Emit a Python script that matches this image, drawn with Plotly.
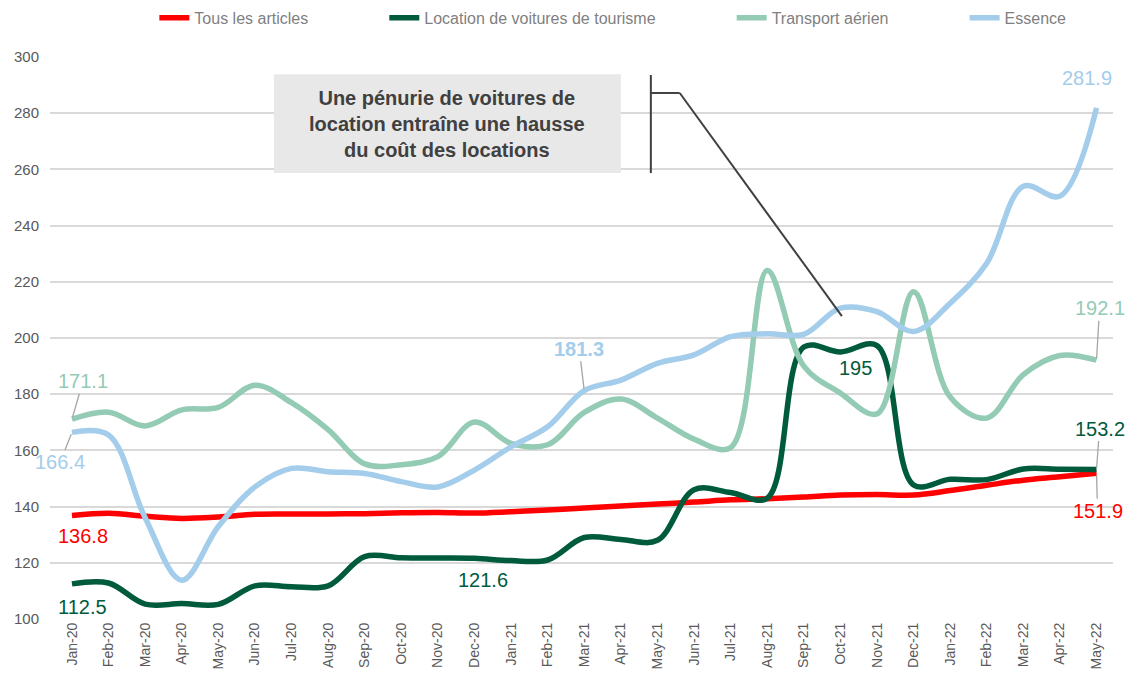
import plotly.graph_objects as go

# months shown on the x axis
months = [
    "Jan-20", "Feb-20", "Mar-20", "Apr-20", "May-20", "Jun-20", "Jul-20", "Aug-20",
    "Sep-20", "Oct-20", "Nov-20", "Dec-20", "Jan-21", "Feb-21", "Mar-21", "Apr-21",
    "May-21", "Jun-21", "Jul-21", "Aug-21", "Sep-21", "Oct-21", "Nov-21", "Dec-21",
    "Jan-22", "Feb-22", "Mar-22", "Apr-22", "May-22",
]

tous_les_articles = [
    136.8, 137.6, 136.6, 135.8, 136.3, 137.3, 137.4, 137.4, 137.5, 137.8, 137.9, 137.7,
    138.2, 138.8, 139.5, 140.2, 140.9, 141.6, 142.4, 142.8, 143.4, 144.1, 144.3, 144.1,
    145.7, 147.6, 149.4, 150.6, 151.9,
]
location_voitures = [
    112.5, 112.8, 105.3, 105.5, 105.2, 111.8, 111.5, 111.8, 122.2, 121.8, 121.7, 121.6,
    120.8, 121.0, 129.0, 128.3, 128.0, 146.0, 145.0, 143.0, 196.8, 195.0, 197.3, 147.7,
    149.7, 149.6, 153.4, 153.3, 153.2,
]
transport_aerien = [
    171.1, 173.6, 168.7, 174.4, 175.3, 183.2, 177.0, 167.4, 155.2, 154.9, 157.8, 170.1,
    162.5, 162.0, 173.5, 178.3, 171.5, 164.0, 161.0, 224.0, 190.0, 180.4, 173.0, 216.5,
    179.0, 171.5, 187.0, 193.8, 192.1,
]
essence = [
    166.4, 165.5, 136.0, 113.8, 132.9, 147.0, 153.6, 152.4, 151.8, 148.9, 147.0, 153.0,
    161.3, 168.4, 181.3, 185.0, 191.0, 194.0, 200.5, 201.5, 201.3, 210.6, 209.4, 202.3,
    212.4, 226.6, 254.0, 250.5, 281.9,
]

RED = "#FF0000"
DARK_GREEN = "#005A3C"
LIGHT_GREEN = "#93CBB5"
BLUE = "#A3CDEB"
FONT = "Liberation Sans, Arial, sans-serif"
PAD = "\u00a0" * 16

series = [
    ("Tous les articles" + PAD, tous_les_articles, RED),
    ("Location de voitures de tourisme" + PAD, location_voitures, DARK_GREEN),
    ("Transport aérien" + PAD, transport_aerien, LIGHT_GREEN),
    ("Essence", essence, BLUE),
]

fig = go.Figure()
for name, values, color in series:
    fig.add_trace(
        go.Scatter(
            x=months,
            y=values,
            name=name,
            mode="lines",
            line=dict(color=color, width=5.5, shape="spline", smoothing=1.0),
        )
    )

# value labels: (month index, value, text, colour, dx, dy, leader line, bold)
labels = [
    (0, transport_aerien[0], "171.1", LIGHT_GREEN, 11, -38, True, False),
    (0, essence[0], "166.4", BLUE, -12, 30, True, False),
    (0, tous_les_articles[0], "136.8", RED, 11, 20, False, False),
    (0, location_voitures[0], "112.5", DARK_GREEN, 11, 23, False, False),
    (11, location_voitures[11], "121.6", DARK_GREEN, 9, 22, False, False),
    (14, essence[14], "181.3", BLUE, -5, -42, True, True),
    (21, location_voitures[21], "195", DARK_GREEN, 15, 16, False, False),
    (28, essence[28], "281.9", BLUE, -10, -30, False, False),
    (28, transport_aerien[28], "192.1", LIGHT_GREEN, 3, -52, True, False),
    (28, location_voitures[28], "153.2", DARK_GREEN, 3, -41, True, False),
    (28, tous_les_articles[28], "151.9", RED, 1, 38, True, False),
]
for idx, val, text, color, dx, dy, leader, bold in labels:
    txt = f"<b>{text}</b>" if bold else text
    if leader:
        fig.add_annotation(
            x=months[idx], y=val, text=txt, showarrow=True, ax=dx, ay=dy,
            arrowhead=0, arrowwidth=1.3, arrowcolor="#A6A6A6", standoff=2,
            font=dict(family=FONT, size=20, color=color),
        )
    else:
        fig.add_annotation(
            x=months[idx], y=val, text=txt, showarrow=False,
            xshift=dx, yshift=-dy,
            font=dict(family=FONT, size=20, color=color),
        )

# callout box
fig.add_shape(
    type="rect", xref="x", yref="y", x0=5.52, x1=15.0, y0=258.7, y1=293.9,
    fillcolor="#E8E8E8", line=dict(width=0), layer="above",
)
fig.add_annotation(
    x=10.26, y=276.3, xref="x", yref="y", showarrow=False,
    text="<b>Une pénurie de voitures de<br>location entraîne une hausse<br>du coût des locations</b>",
    font=dict(family=FONT, size=20, color="#404040"), align="center",
)
callout = dict(color="#404040", width=2)
fig.add_shape(type="line", xref="x", yref="y", x0=15.82, x1=15.82, y0=258.7, y1=293.6, line=callout)
fig.add_shape(type="line", xref="x", yref="y", x0=15.82, x1=16.61, y0=287.2, y1=287.2, line=callout)
fig.add_shape(type="line", xref="x", yref="y", x0=16.61, x1=21.04, y0=287.2, y1=207.8, line=callout)

# the page adds an 8px body margin, so the figure is kept inside the window
fig.update_layout(
    width=1118,
    height=664,
    margin=dict(l=42, r=13, t=49, b=53, autoexpand=False),
    plot_bgcolor="white",
    paper_bgcolor="white",
    font=dict(family=FONT, color="#595959"),
    showlegend=True,
    legend=dict(
        orientation="h",
        xref="container",
        yref="container",
        x=0.1309,
        xanchor="left",
        y=0.985,
        yanchor="middle",
        font=dict(family=FONT, size=16, color="#7F7F7F"),
        itemwidth=30,
        bgcolor="rgba(0,0,0,0)",
    ),
)
fig.update_xaxes(
    type="category",
    range=[-0.6, 28.45],
    tickangle=-90,
    tickfont=dict(family=FONT, size=14, color="#595959"),
    showgrid=False,
    showline=False,
    zeroline=False,
    ticks="",
    automargin=False,
)
fig.update_yaxes(
    range=[100, 300],
    dtick=20,
    tickfont=dict(family=FONT, size=15, color="#595959"),
    showgrid=True,
    gridcolor="#D9D9D9",
    gridwidth=1.5,
    zeroline=False,
    showline=False,
    ticks="",
    ticklabelstandoff=10,
    automargin=False,
)

fig.write_html("out.html")
